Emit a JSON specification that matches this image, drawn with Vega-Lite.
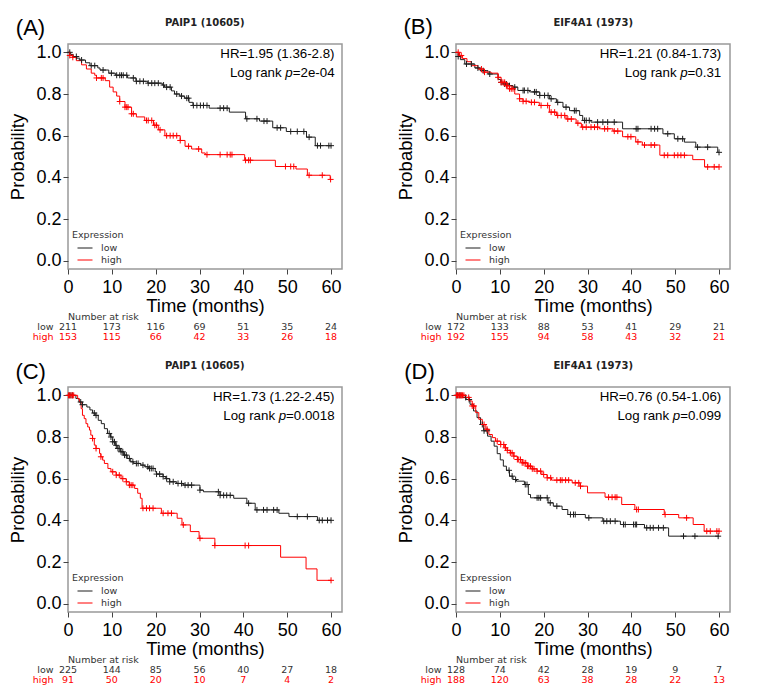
{
"$schema": "https://vega.github.io/schema/vega-lite/v6.json",
"background": "white",
"padding": {"left": 8, "top": 15, "right": 5, "bottom": 5},
"datasets": {
"info": [
{"panel":"A","letter":"(A)","gene":"PAIP1 (10605)","hr":"HR=1.95 (1.36-2.8)","pval":"=2e-04"},
{"panel":"B","letter":"(B)","gene":"EIF4A1 (1973)","hr":"HR=1.21 (0.84-1.73)","pval":"=0.31"},
{"panel":"C","letter":"(C)","gene":"PAIP1 (10605)","hr":"HR=1.73 (1.22-2.45)","pval":"=0.0018"},
{"panel":"D","letter":"(D)","gene":"EIF4A1 (1973)","hr":"HR=0.76 (0.54-1.06)","pval":"=0.099"}
],
"risk": [
{"panel":"A","grp":"low","t":0,"n":211},{"panel":"A","grp":"low","t":10,"n":173},{"panel":"A","grp":"low","t":20,"n":116},{"panel":"A","grp":"low","t":30,"n":69},{"panel":"A","grp":"low","t":40,"n":51},{"panel":"A","grp":"low","t":50,"n":35},{"panel":"A","grp":"low","t":60,"n":24},
{"panel":"A","grp":"high","t":0,"n":153},{"panel":"A","grp":"high","t":10,"n":115},{"panel":"A","grp":"high","t":20,"n":66},{"panel":"A","grp":"high","t":30,"n":42},{"panel":"A","grp":"high","t":40,"n":33},{"panel":"A","grp":"high","t":50,"n":26},{"panel":"A","grp":"high","t":60,"n":18},
{"panel":"B","grp":"low","t":0,"n":172},{"panel":"B","grp":"low","t":10,"n":133},{"panel":"B","grp":"low","t":20,"n":88},{"panel":"B","grp":"low","t":30,"n":53},{"panel":"B","grp":"low","t":40,"n":41},{"panel":"B","grp":"low","t":50,"n":29},{"panel":"B","grp":"low","t":60,"n":21},
{"panel":"B","grp":"high","t":0,"n":192},{"panel":"B","grp":"high","t":10,"n":155},{"panel":"B","grp":"high","t":20,"n":94},{"panel":"B","grp":"high","t":30,"n":58},{"panel":"B","grp":"high","t":40,"n":43},{"panel":"B","grp":"high","t":50,"n":32},{"panel":"B","grp":"high","t":60,"n":21},
{"panel":"C","grp":"low","t":0,"n":225},{"panel":"C","grp":"low","t":10,"n":144},{"panel":"C","grp":"low","t":20,"n":85},{"panel":"C","grp":"low","t":30,"n":56},{"panel":"C","grp":"low","t":40,"n":40},{"panel":"C","grp":"low","t":50,"n":27},{"panel":"C","grp":"low","t":60,"n":18},
{"panel":"C","grp":"high","t":0,"n":91},{"panel":"C","grp":"high","t":10,"n":50},{"panel":"C","grp":"high","t":20,"n":20},{"panel":"C","grp":"high","t":30,"n":10},{"panel":"C","grp":"high","t":40,"n":7},{"panel":"C","grp":"high","t":50,"n":4},{"panel":"C","grp":"high","t":60,"n":2},
{"panel":"D","grp":"low","t":0,"n":128},{"panel":"D","grp":"low","t":10,"n":74},{"panel":"D","grp":"low","t":20,"n":42},{"panel":"D","grp":"low","t":30,"n":28},{"panel":"D","grp":"low","t":40,"n":19},{"panel":"D","grp":"low","t":50,"n":9},{"panel":"D","grp":"low","t":60,"n":7},
{"panel":"D","grp":"high","t":0,"n":188},{"panel":"D","grp":"high","t":10,"n":120},{"panel":"D","grp":"high","t":20,"n":63},{"panel":"D","grp":"high","t":30,"n":38},{"panel":"D","grp":"high","t":40,"n":28},{"panel":"D","grp":"high","t":50,"n":22},{"panel":"D","grp":"high","t":60,"n":13}
],
"km": [
{"panel":"A","grp":"low","t":0,"s":1},{"panel":"A","grp":"low","t":0.6,"s":0.99},{"panel":"A","grp":"low","t":1.2,"s":0.98},{"panel":"A","grp":"low","t":2,"s":0.972},{"panel":"A","grp":"low","t":2.7,"s":0.963},{"panel":"A","grp":"low","t":4,"s":0.95},{"panel":"A","grp":"low","t":5,"s":0.936},{"panel":"A","grp":"low","t":6.8,"s":0.925},{"panel":"A","grp":"low","t":7.3,"s":0.915},{"panel":"A","grp":"low","t":9.3,"s":0.9},{"panel":"A","grp":"low","t":10.8,"s":0.89},{"panel":"A","grp":"low","t":13.6,"s":0.877},{"panel":"A","grp":"low","t":15.5,"s":0.861},{"panel":"A","grp":"low","t":18.2,"s":0.852},{"panel":"A","grp":"low","t":21.5,"s":0.843},{"panel":"A","grp":"low","t":22,"s":0.833},{"panel":"A","grp":"low","t":23.6,"s":0.815},{"panel":"A","grp":"low","t":24.3,"s":0.8},{"panel":"A","grp":"low","t":25.5,"s":0.79},{"panel":"A","grp":"low","t":26.6,"s":0.78},{"panel":"A","grp":"low","t":27.6,"s":0.76},{"panel":"A","grp":"low","t":28.5,"s":0.745},{"panel":"A","grp":"low","t":32.2,"s":0.732},{"panel":"A","grp":"low","t":36.8,"s":0.713},{"panel":"A","grp":"low","t":40.5,"s":0.681},{"panel":"A","grp":"low","t":43.7,"s":0.67},{"panel":"A","grp":"low","t":46.7,"s":0.638},{"panel":"A","grp":"low","t":49.8,"s":0.62},{"panel":"A","grp":"low","t":54.4,"s":0.593},{"panel":"A","grp":"low","t":56.4,"s":0.552},{"panel":"A","grp":"low","t":60,"s":0.552},
{"panel":"A","grp":"high","t":0,"s":1},{"panel":"A","grp":"high","t":0.4,"s":0.985},{"panel":"A","grp":"high","t":1,"s":0.976},{"panel":"A","grp":"high","t":1.9,"s":0.96},{"panel":"A","grp":"high","t":3.1,"s":0.94},{"panel":"A","grp":"high","t":4.2,"s":0.92},{"panel":"A","grp":"high","t":5.3,"s":0.9},{"panel":"A","grp":"high","t":6.1,"s":0.89},{"panel":"A","grp":"high","t":6.5,"s":0.877},{"panel":"A","grp":"high","t":8.5,"s":0.864},{"panel":"A","grp":"high","t":9.5,"s":0.833},{"panel":"A","grp":"high","t":10.3,"s":0.81},{"panel":"A","grp":"high","t":11.1,"s":0.79},{"panel":"A","grp":"high","t":11.8,"s":0.764},{"panel":"A","grp":"high","t":13,"s":0.737},{"panel":"A","grp":"high","t":14.5,"s":0.705},{"panel":"A","grp":"high","t":15.6,"s":0.69},{"panel":"A","grp":"high","t":17.5,"s":0.673},{"panel":"A","grp":"high","t":19.5,"s":0.65},{"panel":"A","grp":"high","t":20.6,"s":0.628},{"panel":"A","grp":"high","t":22.1,"s":0.6},{"panel":"A","grp":"high","t":25.6,"s":0.577},{"panel":"A","grp":"high","t":26.7,"s":0.549},{"panel":"A","grp":"high","t":28.2,"s":0.536},{"panel":"A","grp":"high","t":30.5,"s":0.517},{"panel":"A","grp":"high","t":31.3,"s":0.509},{"panel":"A","grp":"high","t":40.3,"s":0.482},{"panel":"A","grp":"high","t":47.3,"s":0.452},{"panel":"A","grp":"high","t":52,"s":0.44},{"panel":"A","grp":"high","t":54.6,"s":0.41},{"panel":"A","grp":"high","t":59.8,"s":0.39},{"panel":"A","grp":"high","t":60,"s":0.39},
{"panel":"B","grp":"low","t":0,"s":1},{"panel":"B","grp":"low","t":0.5,"s":0.98},{"panel":"B","grp":"low","t":1,"s":0.965},{"panel":"B","grp":"low","t":2,"s":0.944},{"panel":"B","grp":"low","t":4.3,"s":0.925},{"panel":"B","grp":"low","t":5.5,"s":0.912},{"panel":"B","grp":"low","t":7.3,"s":0.896},{"panel":"B","grp":"low","t":9.6,"s":0.87},{"panel":"B","grp":"low","t":10.2,"s":0.856},{"panel":"B","grp":"low","t":10.7,"s":0.848},{"panel":"B","grp":"low","t":12.2,"s":0.84},{"panel":"B","grp":"low","t":13,"s":0.833},{"panel":"B","grp":"low","t":14.1,"s":0.817},{"panel":"B","grp":"low","t":16.8,"s":0.81},{"panel":"B","grp":"low","t":19.1,"s":0.793},{"panel":"B","grp":"low","t":21.3,"s":0.777},{"panel":"B","grp":"low","t":22.9,"s":0.76},{"panel":"B","grp":"low","t":24.4,"s":0.737},{"panel":"B","grp":"low","t":25.9,"s":0.72},{"panel":"B","grp":"low","t":28.2,"s":0.697},{"panel":"B","grp":"low","t":28.9,"s":0.673},{"panel":"B","grp":"low","t":30.8,"s":0.665},{"panel":"B","grp":"low","t":38,"s":0.633},{"panel":"B","grp":"low","t":47.2,"s":0.609},{"panel":"B","grp":"low","t":49.8,"s":0.585},{"panel":"B","grp":"low","t":52.1,"s":0.569},{"panel":"B","grp":"low","t":54.7,"s":0.545},{"panel":"B","grp":"low","t":59.7,"s":0.52},{"panel":"B","grp":"low","t":60,"s":0.52},
{"panel":"B","grp":"high","t":0,"s":1},{"panel":"B","grp":"high","t":0.8,"s":0.985},{"panel":"B","grp":"high","t":1.5,"s":0.97},{"panel":"B","grp":"high","t":2.5,"s":0.955},{"panel":"B","grp":"high","t":3.5,"s":0.936},{"panel":"B","grp":"high","t":5,"s":0.92},{"panel":"B","grp":"high","t":6.5,"s":0.905},{"panel":"B","grp":"high","t":8,"s":0.9},{"panel":"B","grp":"high","t":9.6,"s":0.88},{"panel":"B","grp":"high","t":10.3,"s":0.856},{"panel":"B","grp":"high","t":11.5,"s":0.84},{"panel":"B","grp":"high","t":12.2,"s":0.825},{"panel":"B","grp":"high","t":13.4,"s":0.8},{"panel":"B","grp":"high","t":14.5,"s":0.777},{"panel":"B","grp":"high","t":15.3,"s":0.765},{"panel":"B","grp":"high","t":16.8,"s":0.76},{"panel":"B","grp":"high","t":19,"s":0.745},{"panel":"B","grp":"high","t":21.3,"s":0.713},{"panel":"B","grp":"high","t":22.9,"s":0.697},{"panel":"B","grp":"high","t":25.1,"s":0.68},{"panel":"B","grp":"high","t":27.4,"s":0.66},{"panel":"B","grp":"high","t":28.6,"s":0.641},{"panel":"B","grp":"high","t":32.7,"s":0.633},{"panel":"B","grp":"high","t":35.8,"s":0.622},{"panel":"B","grp":"high","t":38,"s":0.595},{"panel":"B","grp":"high","t":41,"s":0.57},{"panel":"B","grp":"high","t":42.5,"s":0.555},{"panel":"B","grp":"high","t":46.5,"s":0.506},{"panel":"B","grp":"high","t":54,"s":0.485},{"panel":"B","grp":"high","t":56.7,"s":0.45},{"panel":"B","grp":"high","t":60,"s":0.45},
{"panel":"C","grp":"low","t":0,"s":1},{"panel":"C","grp":"low","t":1.8,"s":0.985},{"panel":"C","grp":"low","t":2.5,"s":0.968},{"panel":"C","grp":"low","t":3.3,"s":0.955},{"panel":"C","grp":"low","t":4.3,"s":0.944},{"panel":"C","grp":"low","t":5,"s":0.93},{"panel":"C","grp":"low","t":5.6,"s":0.915},{"panel":"C","grp":"low","t":6.2,"s":0.904},{"panel":"C","grp":"low","t":6.9,"s":0.88},{"panel":"C","grp":"low","t":7.6,"s":0.864},{"panel":"C","grp":"low","t":8.3,"s":0.84},{"panel":"C","grp":"low","t":9,"s":0.817},{"panel":"C","grp":"low","t":9.7,"s":0.8},{"panel":"C","grp":"low","t":10.2,"s":0.777},{"panel":"C","grp":"low","t":10.8,"s":0.76},{"panel":"C","grp":"low","t":11.2,"s":0.745},{"panel":"C","grp":"low","t":12,"s":0.729},{"panel":"C","grp":"low","t":12.7,"s":0.713},{"panel":"C","grp":"low","t":13.5,"s":0.697},{"panel":"C","grp":"low","t":14.3,"s":0.681},{"panel":"C","grp":"low","t":15,"s":0.673},{"panel":"C","grp":"low","t":16.6,"s":0.665},{"panel":"C","grp":"low","t":17.5,"s":0.657},{"panel":"C","grp":"low","t":18.4,"s":0.649},{"panel":"C","grp":"low","t":19.9,"s":0.633},{"panel":"C","grp":"low","t":20.2,"s":0.622},{"panel":"C","grp":"low","t":21.7,"s":0.61},{"panel":"C","grp":"low","t":22.3,"s":0.6},{"panel":"C","grp":"low","t":23.2,"s":0.585},{"panel":"C","grp":"low","t":24.8,"s":0.577},{"panel":"C","grp":"low","t":26.3,"s":0.569},{"panel":"C","grp":"low","t":30.1,"s":0.545},{"panel":"C","grp":"low","t":30.9,"s":0.537},{"panel":"C","grp":"low","t":34.7,"s":0.52},{"panel":"C","grp":"low","t":37.8,"s":0.506},{"panel":"C","grp":"low","t":40.8,"s":0.482},{"panel":"C","grp":"low","t":42.7,"s":0.45},{"panel":"C","grp":"low","t":48.1,"s":0.434},{"panel":"C","grp":"low","t":50.4,"s":0.418},{"panel":"C","grp":"low","t":56.9,"s":0.4},{"panel":"C","grp":"low","t":60,"s":0.4},
{"panel":"C","grp":"high","t":0,"s":1},{"panel":"C","grp":"high","t":2.2,"s":0.984},{"panel":"C","grp":"high","t":2.6,"s":0.968},{"panel":"C","grp":"high","t":3,"s":0.936},{"panel":"C","grp":"high","t":3.3,"s":0.904},{"panel":"C","grp":"high","t":3.7,"s":0.888},{"panel":"C","grp":"high","t":4.1,"s":0.864},{"panel":"C","grp":"high","t":4.5,"s":0.848},{"panel":"C","grp":"high","t":4.9,"s":0.833},{"panel":"C","grp":"high","t":5.2,"s":0.809},{"panel":"C","grp":"high","t":5.6,"s":0.793},{"panel":"C","grp":"high","t":6,"s":0.761},{"panel":"C","grp":"high","t":6.4,"s":0.745},{"panel":"C","grp":"high","t":7.2,"s":0.721},{"panel":"C","grp":"high","t":7.5,"s":0.705},{"panel":"C","grp":"high","t":7.9,"s":0.689},{"panel":"C","grp":"high","t":8.3,"s":0.673},{"panel":"C","grp":"high","t":9.1,"s":0.649},{"panel":"C","grp":"high","t":9.8,"s":0.633},{"panel":"C","grp":"high","t":11,"s":0.617},{"panel":"C","grp":"high","t":12.1,"s":0.6},{"panel":"C","grp":"high","t":13.3,"s":0.585},{"panel":"C","grp":"high","t":14,"s":0.569},{"panel":"C","grp":"high","t":15.2,"s":0.553},{"panel":"C","grp":"high","t":15.9,"s":0.53},{"panel":"C","grp":"high","t":16.5,"s":0.506},{"panel":"C","grp":"high","t":16.9,"s":0.458},{"panel":"C","grp":"high","t":21.3,"s":0.434},{"panel":"C","grp":"high","t":24.9,"s":0.41},{"panel":"C","grp":"high","t":26,"s":0.378},{"panel":"C","grp":"high","t":27.9,"s":0.346},{"panel":"C","grp":"high","t":29.9,"s":0.314},{"panel":"C","grp":"high","t":33.5,"s":0.279},{"panel":"C","grp":"high","t":48.5,"s":0.223},{"panel":"C","grp":"high","t":54.3,"s":0.167},{"panel":"C","grp":"high","t":56.8,"s":0.112},{"panel":"C","grp":"high","t":60,"s":0.112},
{"panel":"D","grp":"low","t":0,"s":1},{"panel":"D","grp":"low","t":1.5,"s":0.99},{"panel":"D","grp":"low","t":2.3,"s":0.98},{"panel":"D","grp":"low","t":3.2,"s":0.957},{"panel":"D","grp":"low","t":4,"s":0.925},{"panel":"D","grp":"low","t":4.8,"s":0.893},{"panel":"D","grp":"low","t":5.6,"s":0.86},{"panel":"D","grp":"low","t":6.3,"s":0.83},{"panel":"D","grp":"low","t":7.2,"s":0.804},{"panel":"D","grp":"low","t":8,"s":0.78},{"panel":"D","grp":"low","t":8.7,"s":0.756},{"panel":"D","grp":"low","t":9.4,"s":0.72},{"panel":"D","grp":"low","t":10.1,"s":0.69},{"panel":"D","grp":"low","t":10.8,"s":0.66},{"panel":"D","grp":"low","t":11.5,"s":0.64},{"panel":"D","grp":"low","t":12.2,"s":0.612},{"panel":"D","grp":"low","t":13,"s":0.596},{"panel":"D","grp":"low","t":13.8,"s":0.588},{"panel":"D","grp":"low","t":15.6,"s":0.572},{"panel":"D","grp":"low","t":16.5,"s":0.524},{"panel":"D","grp":"low","t":17,"s":0.508},{"panel":"D","grp":"low","t":21,"s":0.484},{"panel":"D","grp":"low","t":22.2,"s":0.468},{"panel":"D","grp":"low","t":24.2,"s":0.452},{"panel":"D","grp":"low","t":25.5,"s":0.428},{"panel":"D","grp":"low","t":29.5,"s":0.412},{"panel":"D","grp":"low","t":33.5,"s":0.396},{"panel":"D","grp":"low","t":37.5,"s":0.38},{"panel":"D","grp":"low","t":43,"s":0.364},{"panel":"D","grp":"low","t":48.5,"s":0.324},{"panel":"D","grp":"low","t":60,"s":0.324},
{"panel":"D","grp":"high","t":0,"s":1},{"panel":"D","grp":"high","t":2.2,"s":0.99},{"panel":"D","grp":"high","t":3,"s":0.973},{"panel":"D","grp":"high","t":3.7,"s":0.949},{"panel":"D","grp":"high","t":4.5,"s":0.917},{"panel":"D","grp":"high","t":5.2,"s":0.885},{"panel":"D","grp":"high","t":6,"s":0.86},{"panel":"D","grp":"high","t":6.8,"s":0.837},{"panel":"D","grp":"high","t":7.5,"s":0.812},{"panel":"D","grp":"high","t":8.3,"s":0.797},{"panel":"D","grp":"high","t":9,"s":0.78},{"panel":"D","grp":"high","t":10.2,"s":0.764},{"panel":"D","grp":"high","t":11,"s":0.748},{"panel":"D","grp":"high","t":11.7,"s":0.736},{"panel":"D","grp":"high","t":12.4,"s":0.724},{"panel":"D","grp":"high","t":13.2,"s":0.708},{"panel":"D","grp":"high","t":14,"s":0.692},{"panel":"D","grp":"high","t":15.1,"s":0.676},{"panel":"D","grp":"high","t":16.3,"s":0.66},{"panel":"D","grp":"high","t":17.4,"s":0.647},{"panel":"D","grp":"high","t":18.5,"s":0.636},{"panel":"D","grp":"high","t":19.6,"s":0.62},{"panel":"D","grp":"high","t":20.8,"s":0.604},{"panel":"D","grp":"high","t":21.8,"s":0.593},{"panel":"D","grp":"high","t":26.5,"s":0.58},{"panel":"D","grp":"high","t":28.3,"s":0.564},{"panel":"D","grp":"high","t":30,"s":0.532},{"panel":"D","grp":"high","t":34,"s":0.511},{"panel":"D","grp":"high","t":37.8,"s":0.476},{"panel":"D","grp":"high","t":40.8,"s":0.452},{"panel":"D","grp":"high","t":47.5,"s":0.428},{"panel":"D","grp":"high","t":50.8,"s":0.412},{"panel":"D","grp":"high","t":54.1,"s":0.38},{"panel":"D","grp":"high","t":56.6,"s":0.348},{"panel":"D","grp":"high","t":60,"s":0.348}
],
"cens": [
{"panel":"A","grp":"low","t":0.4,"s":1},{"panel":"A","grp":"low","t":1.9,"s":0.98},{"panel":"A","grp":"low","t":3.1,"s":0.963},{"panel":"A","grp":"low","t":5.3,"s":0.936},{"panel":"A","grp":"low","t":6.1,"s":0.936},{"panel":"A","grp":"low","t":8,"s":0.915},{"panel":"A","grp":"low","t":9.9,"s":0.9},{"panel":"A","grp":"low","t":11.1,"s":0.89},{"panel":"A","grp":"low","t":11.8,"s":0.89},{"panel":"A","grp":"low","t":12.2,"s":0.89},{"panel":"A","grp":"low","t":12.6,"s":0.89},{"panel":"A","grp":"low","t":13.4,"s":0.89},{"panel":"A","grp":"low","t":14.9,"s":0.877},{"panel":"A","grp":"low","t":15.6,"s":0.861},{"panel":"A","grp":"low","t":16.4,"s":0.861},{"panel":"A","grp":"low","t":17.2,"s":0.861},{"panel":"A","grp":"low","t":18.3,"s":0.852},{"panel":"A","grp":"low","t":19.1,"s":0.852},{"panel":"A","grp":"low","t":19.8,"s":0.852},{"panel":"A","grp":"low","t":20.6,"s":0.852},{"panel":"A","grp":"low","t":21.8,"s":0.843},{"panel":"A","grp":"low","t":22.5,"s":0.833},{"panel":"A","grp":"low","t":23.3,"s":0.833},{"panel":"A","grp":"low","t":24.8,"s":0.8},{"panel":"A","grp":"low","t":25.9,"s":0.79},{"panel":"A","grp":"low","t":27.1,"s":0.78},{"panel":"A","grp":"low","t":27.5,"s":0.78},{"panel":"A","grp":"low","t":28.6,"s":0.745},{"panel":"A","grp":"low","t":29.4,"s":0.745},{"panel":"A","grp":"low","t":30.2,"s":0.745},{"panel":"A","grp":"low","t":30.9,"s":0.745},{"panel":"A","grp":"low","t":31.7,"s":0.745},{"panel":"A","grp":"low","t":34.7,"s":0.732},{"panel":"A","grp":"low","t":35.5,"s":0.732},{"panel":"A","grp":"low","t":36.3,"s":0.732},{"panel":"A","grp":"low","t":40.8,"s":0.681},{"panel":"A","grp":"low","t":43.1,"s":0.681},{"panel":"A","grp":"low","t":44.7,"s":0.67},{"panel":"A","grp":"low","t":45.4,"s":0.67},{"panel":"A","grp":"low","t":47.7,"s":0.638},{"panel":"A","grp":"low","t":48.5,"s":0.638},{"panel":"A","grp":"low","t":50.8,"s":0.62},{"panel":"A","grp":"low","t":52.3,"s":0.62},{"panel":"A","grp":"low","t":53.8,"s":0.62},{"panel":"A","grp":"low","t":55,"s":0.593},{"panel":"A","grp":"low","t":56.9,"s":0.552},{"panel":"A","grp":"low","t":57.6,"s":0.552},{"panel":"A","grp":"low","t":59.5,"s":0.552},{"panel":"A","grp":"low","t":60,"s":0.552},
{"panel":"A","grp":"high","t":0.4,"s":0.985},{"panel":"A","grp":"high","t":1.1,"s":0.976},{"panel":"A","grp":"high","t":6.5,"s":0.877},{"panel":"A","grp":"high","t":7.6,"s":0.877},{"panel":"A","grp":"high","t":8,"s":0.877},{"panel":"A","grp":"high","t":11.8,"s":0.764},{"panel":"A","grp":"high","t":13,"s":0.737},{"panel":"A","grp":"high","t":13.4,"s":0.737},{"panel":"A","grp":"high","t":13.7,"s":0.737},{"panel":"A","grp":"high","t":14.5,"s":0.705},{"panel":"A","grp":"high","t":14.9,"s":0.705},{"panel":"A","grp":"high","t":17.9,"s":0.673},{"panel":"A","grp":"high","t":18.3,"s":0.673},{"panel":"A","grp":"high","t":19.1,"s":0.673},{"panel":"A","grp":"high","t":19.8,"s":0.65},{"panel":"A","grp":"high","t":20.2,"s":0.65},{"panel":"A","grp":"high","t":21,"s":0.628},{"panel":"A","grp":"high","t":22.5,"s":0.6},{"panel":"A","grp":"high","t":23.3,"s":0.6},{"panel":"A","grp":"high","t":24,"s":0.6},{"panel":"A","grp":"high","t":24.8,"s":0.6},{"panel":"A","grp":"high","t":25.6,"s":0.577},{"panel":"A","grp":"high","t":27.5,"s":0.549},{"panel":"A","grp":"high","t":29.8,"s":0.536},{"panel":"A","grp":"high","t":31.7,"s":0.509},{"panel":"A","grp":"high","t":34.7,"s":0.509},{"panel":"A","grp":"high","t":36.3,"s":0.509},{"panel":"A","grp":"high","t":37,"s":0.509},{"panel":"A","grp":"high","t":37.4,"s":0.509},{"panel":"A","grp":"high","t":40.5,"s":0.482},{"panel":"A","grp":"high","t":41.2,"s":0.482},{"panel":"A","grp":"high","t":41.6,"s":0.482},{"panel":"A","grp":"high","t":49.6,"s":0.452},{"panel":"A","grp":"high","t":50.8,"s":0.452},{"panel":"A","grp":"high","t":51.5,"s":0.452},{"panel":"A","grp":"high","t":55,"s":0.41},{"panel":"A","grp":"high","t":58,"s":0.41},{"panel":"A","grp":"high","t":59.9,"s":0.39},
{"panel":"B","grp":"low","t":0.5,"s":0.98},{"panel":"B","grp":"low","t":2.4,"s":0.944},{"panel":"B","grp":"low","t":3.5,"s":0.944},{"panel":"B","grp":"low","t":5,"s":0.925},{"panel":"B","grp":"low","t":6.2,"s":0.912},{"panel":"B","grp":"low","t":7.7,"s":0.896},{"panel":"B","grp":"low","t":10.3,"s":0.856},{"panel":"B","grp":"low","t":11.1,"s":0.848},{"panel":"B","grp":"low","t":11.5,"s":0.848},{"panel":"B","grp":"low","t":12.2,"s":0.84},{"panel":"B","grp":"low","t":13.4,"s":0.833},{"panel":"B","grp":"low","t":15.3,"s":0.817},{"panel":"B","grp":"low","t":15.6,"s":0.817},{"panel":"B","grp":"low","t":16.4,"s":0.817},{"panel":"B","grp":"low","t":17.9,"s":0.81},{"panel":"B","grp":"low","t":18.3,"s":0.81},{"panel":"B","grp":"low","t":19.1,"s":0.793},{"panel":"B","grp":"low","t":20.2,"s":0.793},{"panel":"B","grp":"low","t":21,"s":0.793},{"panel":"B","grp":"low","t":21.7,"s":0.777},{"panel":"B","grp":"low","t":23.2,"s":0.76},{"panel":"B","grp":"low","t":25.1,"s":0.737},{"panel":"B","grp":"low","t":27,"s":0.72},{"panel":"B","grp":"low","t":27.4,"s":0.72},{"panel":"B","grp":"low","t":29.3,"s":0.673},{"panel":"B","grp":"low","t":29.7,"s":0.673},{"panel":"B","grp":"low","t":30.4,"s":0.673},{"panel":"B","grp":"low","t":32.3,"s":0.665},{"panel":"B","grp":"low","t":33.5,"s":0.665},{"panel":"B","grp":"low","t":34.6,"s":0.665},{"panel":"B","grp":"low","t":36.1,"s":0.665},{"panel":"B","grp":"low","t":41.1,"s":0.633},{"panel":"B","grp":"low","t":41.5,"s":0.633},{"panel":"B","grp":"low","t":44.5,"s":0.633},{"panel":"B","grp":"low","t":45.3,"s":0.633},{"panel":"B","grp":"low","t":46,"s":0.633},{"panel":"B","grp":"low","t":48.3,"s":0.609},{"panel":"B","grp":"low","t":50.6,"s":0.585},{"panel":"B","grp":"low","t":51.7,"s":0.585},{"panel":"B","grp":"low","t":55.1,"s":0.545},{"panel":"B","grp":"low","t":57.4,"s":0.545},{"panel":"B","grp":"low","t":60,"s":0.52},
{"panel":"B","grp":"high","t":0.5,"s":1},{"panel":"B","grp":"high","t":1.2,"s":0.985},{"panel":"B","grp":"high","t":5.8,"s":0.92},{"panel":"B","grp":"high","t":6.5,"s":0.905},{"panel":"B","grp":"high","t":9.6,"s":0.88},{"panel":"B","grp":"high","t":10.3,"s":0.856},{"panel":"B","grp":"high","t":10.7,"s":0.856},{"panel":"B","grp":"high","t":11.1,"s":0.856},{"panel":"B","grp":"high","t":11.5,"s":0.84},{"panel":"B","grp":"high","t":11.8,"s":0.84},{"panel":"B","grp":"high","t":12.2,"s":0.825},{"panel":"B","grp":"high","t":12.6,"s":0.825},{"panel":"B","grp":"high","t":13,"s":0.825},{"panel":"B","grp":"high","t":14.5,"s":0.777},{"panel":"B","grp":"high","t":15.3,"s":0.765},{"panel":"B","grp":"high","t":16,"s":0.765},{"panel":"B","grp":"high","t":17.2,"s":0.76},{"panel":"B","grp":"high","t":17.9,"s":0.76},{"panel":"B","grp":"high","t":19.4,"s":0.745},{"panel":"B","grp":"high","t":20.9,"s":0.745},{"panel":"B","grp":"high","t":21.7,"s":0.713},{"panel":"B","grp":"high","t":22.5,"s":0.713},{"panel":"B","grp":"high","t":23.2,"s":0.697},{"panel":"B","grp":"high","t":24,"s":0.697},{"panel":"B","grp":"high","t":24.8,"s":0.697},{"panel":"B","grp":"high","t":25.5,"s":0.68},{"panel":"B","grp":"high","t":26.3,"s":0.68},{"panel":"B","grp":"high","t":27.8,"s":0.66},{"panel":"B","grp":"high","t":28.9,"s":0.641},{"panel":"B","grp":"high","t":29.7,"s":0.641},{"panel":"B","grp":"high","t":30.8,"s":0.641},{"panel":"B","grp":"high","t":31.6,"s":0.641},{"panel":"B","grp":"high","t":32.3,"s":0.641},{"panel":"B","grp":"high","t":33.9,"s":0.633},{"panel":"B","grp":"high","t":34.6,"s":0.633},{"panel":"B","grp":"high","t":36.1,"s":0.622},{"panel":"B","grp":"high","t":36.9,"s":0.622},{"panel":"B","grp":"high","t":39.2,"s":0.595},{"panel":"B","grp":"high","t":39.9,"s":0.595},{"panel":"B","grp":"high","t":41.5,"s":0.57},{"panel":"B","grp":"high","t":43,"s":0.555},{"panel":"B","grp":"high","t":44.5,"s":0.555},{"panel":"B","grp":"high","t":45.3,"s":0.555},{"panel":"B","grp":"high","t":47.5,"s":0.506},{"panel":"B","grp":"high","t":48.3,"s":0.506},{"panel":"B","grp":"high","t":49.8,"s":0.506},{"panel":"B","grp":"high","t":50.6,"s":0.506},{"panel":"B","grp":"high","t":51.3,"s":0.506},{"panel":"B","grp":"high","t":52.1,"s":0.506},{"panel":"B","grp":"high","t":57.4,"s":0.45},{"panel":"B","grp":"high","t":58.9,"s":0.45},{"panel":"B","grp":"high","t":60,"s":0.45},
{"panel":"C","grp":"low","t":0.3,"s":1},{"panel":"C","grp":"low","t":0.65,"s":1},{"panel":"C","grp":"low","t":1,"s":1},{"panel":"C","grp":"low","t":2.9,"s":0.968},{"panel":"C","grp":"low","t":3.3,"s":0.955},{"panel":"C","grp":"low","t":6,"s":0.915},{"panel":"C","grp":"low","t":6.4,"s":0.904},{"panel":"C","grp":"low","t":9.4,"s":0.817},{"panel":"C","grp":"low","t":9.8,"s":0.8},{"panel":"C","grp":"low","t":10.2,"s":0.777},{"panel":"C","grp":"low","t":10.6,"s":0.777},{"panel":"C","grp":"low","t":11,"s":0.76},{"panel":"C","grp":"low","t":11.4,"s":0.745},{"panel":"C","grp":"low","t":11.7,"s":0.745},{"panel":"C","grp":"low","t":12.1,"s":0.729},{"panel":"C","grp":"low","t":12.5,"s":0.729},{"panel":"C","grp":"low","t":12.9,"s":0.713},{"panel":"C","grp":"low","t":13.3,"s":0.713},{"panel":"C","grp":"low","t":14,"s":0.697},{"panel":"C","grp":"low","t":14.8,"s":0.681},{"panel":"C","grp":"low","t":15.6,"s":0.673},{"panel":"C","grp":"low","t":16,"s":0.673},{"panel":"C","grp":"low","t":17.1,"s":0.665},{"panel":"C","grp":"low","t":18.2,"s":0.657},{"panel":"C","grp":"low","t":18.6,"s":0.649},{"panel":"C","grp":"low","t":19,"s":0.649},{"panel":"C","grp":"low","t":19.4,"s":0.649},{"panel":"C","grp":"low","t":20.2,"s":0.622},{"panel":"C","grp":"low","t":20.9,"s":0.622},{"panel":"C","grp":"low","t":21.7,"s":0.61},{"panel":"C","grp":"low","t":22.5,"s":0.6},{"panel":"C","grp":"low","t":23.2,"s":0.585},{"panel":"C","grp":"low","t":24,"s":0.585},{"panel":"C","grp":"low","t":25.1,"s":0.577},{"panel":"C","grp":"low","t":25.9,"s":0.577},{"panel":"C","grp":"low","t":26.7,"s":0.569},{"panel":"C","grp":"low","t":27.4,"s":0.569},{"panel":"C","grp":"low","t":28.2,"s":0.569},{"panel":"C","grp":"low","t":30.1,"s":0.545},{"panel":"C","grp":"low","t":34.3,"s":0.537},{"panel":"C","grp":"low","t":34.7,"s":0.52},{"panel":"C","grp":"low","t":35.5,"s":0.52},{"panel":"C","grp":"low","t":36.2,"s":0.52},{"panel":"C","grp":"low","t":37,"s":0.52},{"panel":"C","grp":"low","t":41.2,"s":0.482},{"panel":"C","grp":"low","t":43.1,"s":0.45},{"panel":"C","grp":"low","t":44.6,"s":0.45},{"panel":"C","grp":"low","t":45.4,"s":0.45},{"panel":"C","grp":"low","t":46.9,"s":0.45},{"panel":"C","grp":"low","t":47.7,"s":0.45},{"panel":"C","grp":"low","t":52.3,"s":0.418},{"panel":"C","grp":"low","t":54.6,"s":0.418},{"panel":"C","grp":"low","t":57.3,"s":0.4},{"panel":"C","grp":"low","t":58,"s":0.4},{"panel":"C","grp":"low","t":59.2,"s":0.4},{"panel":"C","grp":"low","t":60,"s":0.4},
{"panel":"C","grp":"high","t":0.1,"s":1},{"panel":"C","grp":"high","t":0.4,"s":1},{"panel":"C","grp":"high","t":0.7,"s":1},{"panel":"C","grp":"high","t":1,"s":1},{"panel":"C","grp":"high","t":1.3,"s":1},{"panel":"C","grp":"high","t":5.6,"s":0.793},{"panel":"C","grp":"high","t":6.4,"s":0.745},{"panel":"C","grp":"high","t":7.5,"s":0.705},{"panel":"C","grp":"high","t":10.2,"s":0.633},{"panel":"C","grp":"high","t":11,"s":0.617},{"panel":"C","grp":"high","t":11.7,"s":0.617},{"panel":"C","grp":"high","t":12.5,"s":0.6},{"panel":"C","grp":"high","t":13.3,"s":0.585},{"panel":"C","grp":"high","t":14,"s":0.569},{"panel":"C","grp":"high","t":14.4,"s":0.569},{"panel":"C","grp":"high","t":14.8,"s":0.569},{"panel":"C","grp":"high","t":17.1,"s":0.458},{"panel":"C","grp":"high","t":17.9,"s":0.458},{"panel":"C","grp":"high","t":18.6,"s":0.458},{"panel":"C","grp":"high","t":19.4,"s":0.458},{"panel":"C","grp":"high","t":21.7,"s":0.434},{"panel":"C","grp":"high","t":22.8,"s":0.434},{"panel":"C","grp":"high","t":23.6,"s":0.434},{"panel":"C","grp":"high","t":26.3,"s":0.378},{"panel":"C","grp":"high","t":30.1,"s":0.314},{"panel":"C","grp":"high","t":33.5,"s":0.279},{"panel":"C","grp":"high","t":40.4,"s":0.279},{"panel":"C","grp":"high","t":41.2,"s":0.279},{"panel":"C","grp":"high","t":60,"s":0.112},
{"panel":"D","grp":"low","t":0.3,"s":1},{"panel":"D","grp":"low","t":0.7,"s":1},{"panel":"D","grp":"low","t":1.1,"s":1},{"panel":"D","grp":"low","t":2.2,"s":0.99},{"panel":"D","grp":"low","t":3,"s":0.98},{"panel":"D","grp":"low","t":6,"s":0.86},{"panel":"D","grp":"low","t":6.4,"s":0.83},{"panel":"D","grp":"low","t":7.1,"s":0.83},{"panel":"D","grp":"low","t":12.1,"s":0.64},{"panel":"D","grp":"low","t":12.8,"s":0.612},{"panel":"D","grp":"low","t":13.6,"s":0.596},{"panel":"D","grp":"low","t":15.8,"s":0.572},{"panel":"D","grp":"low","t":16.2,"s":0.572},{"panel":"D","grp":"low","t":18.5,"s":0.508},{"panel":"D","grp":"low","t":18.9,"s":0.508},{"panel":"D","grp":"low","t":19.3,"s":0.508},{"panel":"D","grp":"low","t":20.8,"s":0.508},{"panel":"D","grp":"low","t":21.5,"s":0.484},{"panel":"D","grp":"low","t":23,"s":0.468},{"panel":"D","grp":"low","t":26.1,"s":0.428},{"panel":"D","grp":"low","t":26.8,"s":0.428},{"panel":"D","grp":"low","t":27.2,"s":0.428},{"panel":"D","grp":"low","t":30.3,"s":0.412},{"panel":"D","grp":"low","t":33.7,"s":0.396},{"panel":"D","grp":"low","t":34.4,"s":0.396},{"panel":"D","grp":"low","t":35.2,"s":0.396},{"panel":"D","grp":"low","t":36.3,"s":0.396},{"panel":"D","grp":"low","t":38.2,"s":0.38},{"panel":"D","grp":"low","t":38.6,"s":0.38},{"panel":"D","grp":"low","t":40.5,"s":0.38},{"panel":"D","grp":"low","t":40.9,"s":0.38},{"panel":"D","grp":"low","t":41.2,"s":0.38},{"panel":"D","grp":"low","t":43.5,"s":0.364},{"panel":"D","grp":"low","t":44.3,"s":0.364},{"panel":"D","grp":"low","t":45,"s":0.364},{"panel":"D","grp":"low","t":46.2,"s":0.364},{"panel":"D","grp":"low","t":47.3,"s":0.364},{"panel":"D","grp":"low","t":51.9,"s":0.324},{"panel":"D","grp":"low","t":54.5,"s":0.324},{"panel":"D","grp":"low","t":59.8,"s":0.324},
{"panel":"D","grp":"high","t":0.1,"s":1},{"panel":"D","grp":"high","t":0.3,"s":1},{"panel":"D","grp":"high","t":0.5,"s":1},{"panel":"D","grp":"high","t":0.8,"s":1},{"panel":"D","grp":"high","t":1.1,"s":1},{"panel":"D","grp":"high","t":1.3,"s":1},{"panel":"D","grp":"high","t":1.5,"s":1},{"panel":"D","grp":"high","t":1.8,"s":1},{"panel":"D","grp":"high","t":2.9,"s":0.99},{"panel":"D","grp":"high","t":3.7,"s":0.949},{"panel":"D","grp":"high","t":4.1,"s":0.949},{"panel":"D","grp":"high","t":6.4,"s":0.86},{"panel":"D","grp":"high","t":7.1,"s":0.837},{"panel":"D","grp":"high","t":9.4,"s":0.78},{"panel":"D","grp":"high","t":10.2,"s":0.764},{"panel":"D","grp":"high","t":10.9,"s":0.764},{"panel":"D","grp":"high","t":11.3,"s":0.748},{"panel":"D","grp":"high","t":11.7,"s":0.736},{"panel":"D","grp":"high","t":12.4,"s":0.724},{"panel":"D","grp":"high","t":12.8,"s":0.724},{"panel":"D","grp":"high","t":13.2,"s":0.708},{"panel":"D","grp":"high","t":14,"s":0.692},{"panel":"D","grp":"high","t":14.3,"s":0.692},{"panel":"D","grp":"high","t":14.7,"s":0.692},{"panel":"D","grp":"high","t":15.1,"s":0.676},{"panel":"D","grp":"high","t":15.5,"s":0.676},{"panel":"D","grp":"high","t":15.9,"s":0.676},{"panel":"D","grp":"high","t":16.3,"s":0.66},{"panel":"D","grp":"high","t":16.6,"s":0.66},{"panel":"D","grp":"high","t":17,"s":0.66},{"panel":"D","grp":"high","t":17.4,"s":0.647},{"panel":"D","grp":"high","t":17.8,"s":0.647},{"panel":"D","grp":"high","t":18.5,"s":0.636},{"panel":"D","grp":"high","t":19.3,"s":0.636},{"panel":"D","grp":"high","t":20,"s":0.62},{"panel":"D","grp":"high","t":20.8,"s":0.604},{"panel":"D","grp":"high","t":21.6,"s":0.604},{"panel":"D","grp":"high","t":23,"s":0.593},{"panel":"D","grp":"high","t":23.8,"s":0.593},{"panel":"D","grp":"high","t":24.2,"s":0.593},{"panel":"D","grp":"high","t":25,"s":0.593},{"panel":"D","grp":"high","t":25.7,"s":0.593},{"panel":"D","grp":"high","t":27.2,"s":0.58},{"panel":"D","grp":"high","t":28,"s":0.58},{"panel":"D","grp":"high","t":28.4,"s":0.564},{"panel":"D","grp":"high","t":34.8,"s":0.511},{"panel":"D","grp":"high","t":35.6,"s":0.511},{"panel":"D","grp":"high","t":36.3,"s":0.511},{"panel":"D","grp":"high","t":36.7,"s":0.511},{"panel":"D","grp":"high","t":41.2,"s":0.452},{"panel":"D","grp":"high","t":41.6,"s":0.452},{"panel":"D","grp":"high","t":47.7,"s":0.428},{"panel":"D","grp":"high","t":52.6,"s":0.412},{"panel":"D","grp":"high","t":57.2,"s":0.348},{"panel":"D","grp":"high","t":58,"s":0.348},{"panel":"D","grp":"high","t":59.5,"s":0.348},{"panel":"D","grp":"high","t":60,"s":0.348}
]
},
"columns": 2,
"spacing": {"row": 118, "column": 114},
"bounds": "flush",
"resolve": {"scale": {"color": "independent"}},
"concat": [
{"width": 274, "height": 225, "layer": [
 {"data":{"name":"km"},"transform":[{"filter":"datum.panel==='A'"}],"mark":{"type":"line","interpolate":"step-after","strokeWidth":1},
  "encoding":{"x":{"field":"t","type":"quantitative","scale":{"domain":[0,62.5],"nice":false,"zero":false},"axis":{"values":[0,10,20,30,40,50,60],"title":"Time (months)"}},
   "y":{"field":"s","type":"quantitative","scale":{"domain":[-0.04,1.04],"nice":false,"zero":false},"axis":{"values":[0,0.2,0.4,0.6,0.8,1],"format":".1f","title":"Probability"}},
   "color":{"field":"grp","type":"nominal","scale":{"domain":["low","high"],"range":["#1f1f1f","#ff0000"]},"legend":{"title":"Expression","encode":{"symbols":{"update":{"stroke":{"signal":"datum.value==='high'?'#ff0000':'#1f1f1f'"}}}}}}}},
 {"data":{"name":"cens"},"transform":[{"filter":"datum.panel==='A'"}],"mark":{"type":"point","shape":"M-1,0L1,0M0,-1L0,1","size":36,"strokeWidth":1,"filled":false,"opacity":1},
  "encoding":{"x":{"field":"t","type":"quantitative"},"y":{"field":"s","type":"quantitative"},"color":{"condition":{"test":"datum.grp==='high'","value":"#ff0000"},"value":"#1f1f1f"}}},
 {"data":{"name":"info"},"transform":[{"filter":"datum.panel==='A'"}],"mark":{"type":"text","style":"hr","align":"right"},"encoding":{"x":{"datum":60.8},"y":{"datum":0.992},"text":{"field":"hr"}}},
 {"data":{"name":"info"},"transform":[{"filter":"datum.panel==='A'"}],"mark":{"type":"text","style":"hr","align":"right"},"encoding":{"x":{"datum":60.8},"y":{"datum":0.9},"text":{"field":"pval"}}},
 {"data":{"name":"info"},"transform":[{"filter":"datum.panel==='A'"}],"mark":{"type":"text","style":"pit","align":"right","dx":-41.8},"encoding":{"x":{"datum":60.8},"y":{"datum":0.9},"text":{"value":"p"}}},
 {"data":{"name":"info"},"transform":[{"filter":"datum.panel==='A'"}],"mark":{"type":"text","style":"hr","align":"right","dx":-52.9},"encoding":{"x":{"datum":60.8},"y":{"datum":0.9},"text":{"value":"Log rank"}}},
 {"data":{"name":"info"},"transform":[{"filter":"datum.panel==='A'"}],"mark":{"type":"text","style":"gene"},"encoding":{"x":{"datum":31.2},"y":{"datum":1.142},"text":{"field":"gene"}}},
 {"data":{"name":"info"},"transform":[{"filter":"datum.panel==='A'"}],"mark":{"type":"text","style":"letter"},"encoding":{"x":{"datum":-11.9},"y":{"datum":1.117},"text":{"field":"letter"}}},
 {"data":{"name":"info"},"transform":[{"filter":"datum.panel==='A'"}],"mark":{"type":"text","style":"risk","align":"left","color":"#333333"},"encoding":{"x":{"datum":0},"y":{"datum":-0.268},"text":{"value":"Number at risk"}}},
 {"data":{"name":"info"},"transform":[{"filter":"datum.panel==='A'"}],"mark":{"type":"text","style":"risk","align":"right","color":"#333333"},"encoding":{"x":{"datum":-3.3},"y":{"datum":-0.316},"text":{"value":"low"}}},
 {"data":{"name":"info"},"transform":[{"filter":"datum.panel==='A'"}],"mark":{"type":"text","style":"risk","align":"right","color":"#ff0000"},"encoding":{"x":{"datum":-3.3},"y":{"datum":-0.364},"text":{"value":"high"}}},
 {"data":{"name":"risk"},"transform":[{"filter":"datum.panel==='A'&&datum.grp==='low'"}],"mark":{"type":"text","style":"risk","color":"#333333"},"encoding":{"x":{"field":"t","type":"quantitative"},"y":{"datum":-0.316},"text":{"field":"n"}}},
 {"data":{"name":"risk"},"transform":[{"filter":"datum.panel==='A'&&datum.grp==='high'"}],"mark":{"type":"text","style":"risk","color":"#ff0000"},"encoding":{"x":{"field":"t","type":"quantitative"},"y":{"datum":-0.364},"text":{"field":"n"}}}
]},
{"width": 274, "height": 225, "layer": [
 {"data":{"name":"km"},"transform":[{"filter":"datum.panel==='B'"}],"mark":{"type":"line","interpolate":"step-after","strokeWidth":1},
  "encoding":{"x":{"field":"t","type":"quantitative","scale":{"domain":[0,62.5],"nice":false,"zero":false},"axis":{"values":[0,10,20,30,40,50,60],"title":"Time (months)"}},
   "y":{"field":"s","type":"quantitative","scale":{"domain":[-0.04,1.04],"nice":false,"zero":false},"axis":{"values":[0,0.2,0.4,0.6,0.8,1],"format":".1f","title":"Probability"}},
   "color":{"field":"grp","type":"nominal","scale":{"domain":["low","high"],"range":["#1f1f1f","#ff0000"]},"legend":{"title":"Expression","encode":{"symbols":{"update":{"stroke":{"signal":"datum.value==='high'?'#ff0000':'#1f1f1f'"}}}}}}}},
 {"data":{"name":"cens"},"transform":[{"filter":"datum.panel==='B'"}],"mark":{"type":"point","shape":"M-1,0L1,0M0,-1L0,1","size":36,"strokeWidth":1,"filled":false,"opacity":1},
  "encoding":{"x":{"field":"t","type":"quantitative"},"y":{"field":"s","type":"quantitative"},"color":{"condition":{"test":"datum.grp==='high'","value":"#ff0000"},"value":"#1f1f1f"}}},
 {"data":{"name":"info"},"transform":[{"filter":"datum.panel==='B'"}],"mark":{"type":"text","style":"hr","align":"right"},"encoding":{"x":{"datum":60.5},"y":{"datum":0.992},"text":{"field":"hr"}}},
 {"data":{"name":"info"},"transform":[{"filter":"datum.panel==='B'"}],"mark":{"type":"text","style":"hr","align":"right"},"encoding":{"x":{"datum":60.5},"y":{"datum":0.9},"text":{"field":"pval"}}},
 {"data":{"name":"info"},"transform":[{"filter":"datum.panel==='B'"}],"mark":{"type":"text","style":"pit","align":"right","dx":-33.6},"encoding":{"x":{"datum":60.5},"y":{"datum":0.9},"text":{"value":"p"}}},
 {"data":{"name":"info"},"transform":[{"filter":"datum.panel==='B'"}],"mark":{"type":"text","style":"hr","align":"right","dx":-44.7},"encoding":{"x":{"datum":60.5},"y":{"datum":0.9},"text":{"value":"Log rank"}}},
 {"data":{"name":"info"},"transform":[{"filter":"datum.panel==='B'"}],"mark":{"type":"text","style":"gene"},"encoding":{"x":{"datum":31.3},"y":{"datum":1.142},"text":{"field":"gene"}}},
 {"data":{"name":"info"},"transform":[{"filter":"datum.panel==='B'"}],"mark":{"type":"text","style":"letter"},"encoding":{"x":{"datum":-12},"y":{"datum":1.122},"text":{"field":"letter"}}},
 {"data":{"name":"info"},"transform":[{"filter":"datum.panel==='B'"}],"mark":{"type":"text","style":"risk","align":"left","color":"#333333"},"encoding":{"x":{"datum":0},"y":{"datum":-0.268},"text":{"value":"Number at risk"}}},
 {"data":{"name":"info"},"transform":[{"filter":"datum.panel==='B'"}],"mark":{"type":"text","style":"risk","align":"right","color":"#333333"},"encoding":{"x":{"datum":-3.3},"y":{"datum":-0.316},"text":{"value":"low"}}},
 {"data":{"name":"info"},"transform":[{"filter":"datum.panel==='B'"}],"mark":{"type":"text","style":"risk","align":"right","color":"#ff0000"},"encoding":{"x":{"datum":-3.3},"y":{"datum":-0.364},"text":{"value":"high"}}},
 {"data":{"name":"risk"},"transform":[{"filter":"datum.panel==='B'&&datum.grp==='low'"}],"mark":{"type":"text","style":"risk","color":"#333333"},"encoding":{"x":{"field":"t","type":"quantitative"},"y":{"datum":-0.316},"text":{"field":"n"}}},
 {"data":{"name":"risk"},"transform":[{"filter":"datum.panel==='B'&&datum.grp==='high'"}],"mark":{"type":"text","style":"risk","color":"#ff0000"},"encoding":{"x":{"field":"t","type":"quantitative"},"y":{"datum":-0.364},"text":{"field":"n"}}}
]},
{"width": 274, "height": 225, "layer": [
 {"data":{"name":"km"},"transform":[{"filter":"datum.panel==='C'"}],"mark":{"type":"line","interpolate":"step-after","strokeWidth":1},
  "encoding":{"x":{"field":"t","type":"quantitative","scale":{"domain":[0,62.5],"nice":false,"zero":false},"axis":{"values":[0,10,20,30,40,50,60],"title":"Time (months)"}},
   "y":{"field":"s","type":"quantitative","scale":{"domain":[-0.04,1.04],"nice":false,"zero":false},"axis":{"values":[0,0.2,0.4,0.6,0.8,1],"format":".1f","title":"Probability"}},
   "color":{"field":"grp","type":"nominal","scale":{"domain":["low","high"],"range":["#1f1f1f","#ff0000"]},"legend":{"title":"Expression","encode":{"symbols":{"update":{"stroke":{"signal":"datum.value==='high'?'#ff0000':'#1f1f1f'"}}}}}}}},
 {"data":{"name":"cens"},"transform":[{"filter":"datum.panel==='C'"}],"mark":{"type":"point","shape":"M-1,0L1,0M0,-1L0,1","size":36,"strokeWidth":1,"filled":false,"opacity":1},
  "encoding":{"x":{"field":"t","type":"quantitative"},"y":{"field":"s","type":"quantitative"},"color":{"condition":{"test":"datum.grp==='high'","value":"#ff0000"},"value":"#1f1f1f"}}},
 {"data":{"name":"info"},"transform":[{"filter":"datum.panel==='C'"}],"mark":{"type":"text","style":"hr","align":"right"},"encoding":{"x":{"datum":60.8},"y":{"datum":0.992},"text":{"field":"hr"}}},
 {"data":{"name":"info"},"transform":[{"filter":"datum.panel==='C'"}],"mark":{"type":"text","style":"hr","align":"right"},"encoding":{"x":{"datum":60.8},"y":{"datum":0.9},"text":{"field":"pval"}}},
 {"data":{"name":"info"},"transform":[{"filter":"datum.panel==='C'"}],"mark":{"type":"text","style":"pit","align":"right","dx":-48.4},"encoding":{"x":{"datum":60.8},"y":{"datum":0.9},"text":{"value":"p"}}},
 {"data":{"name":"info"},"transform":[{"filter":"datum.panel==='C'"}],"mark":{"type":"text","style":"hr","align":"right","dx":-59.5},"encoding":{"x":{"datum":60.8},"y":{"datum":0.9},"text":{"value":"Log rank"}}},
 {"data":{"name":"info"},"transform":[{"filter":"datum.panel==='C'"}],"mark":{"type":"text","style":"gene"},"encoding":{"x":{"datum":31.2},"y":{"datum":1.141},"text":{"field":"gene"}}},
 {"data":{"name":"info"},"transform":[{"filter":"datum.panel==='C'"}],"mark":{"type":"text","style":"letter"},"encoding":{"x":{"datum":-12},"y":{"datum":1.112},"text":{"field":"letter"}}},
 {"data":{"name":"info"},"transform":[{"filter":"datum.panel==='C'"}],"mark":{"type":"text","style":"risk","align":"left","color":"#333333"},"encoding":{"x":{"datum":0},"y":{"datum":-0.268},"text":{"value":"Number at risk"}}},
 {"data":{"name":"info"},"transform":[{"filter":"datum.panel==='C'"}],"mark":{"type":"text","style":"risk","align":"right","color":"#333333"},"encoding":{"x":{"datum":-3.3},"y":{"datum":-0.316},"text":{"value":"low"}}},
 {"data":{"name":"info"},"transform":[{"filter":"datum.panel==='C'"}],"mark":{"type":"text","style":"risk","align":"right","color":"#ff0000"},"encoding":{"x":{"datum":-3.3},"y":{"datum":-0.364},"text":{"value":"high"}}},
 {"data":{"name":"risk"},"transform":[{"filter":"datum.panel==='C'&&datum.grp==='low'"}],"mark":{"type":"text","style":"risk","color":"#333333"},"encoding":{"x":{"field":"t","type":"quantitative"},"y":{"datum":-0.316},"text":{"field":"n"}}},
 {"data":{"name":"risk"},"transform":[{"filter":"datum.panel==='C'&&datum.grp==='high'"}],"mark":{"type":"text","style":"risk","color":"#ff0000"},"encoding":{"x":{"field":"t","type":"quantitative"},"y":{"datum":-0.364},"text":{"field":"n"}}}
]},
{"width": 274, "height": 225, "layer": [
 {"data":{"name":"km"},"transform":[{"filter":"datum.panel==='D'"}],"mark":{"type":"line","interpolate":"step-after","strokeWidth":1},
  "encoding":{"x":{"field":"t","type":"quantitative","scale":{"domain":[0,62.5],"nice":false,"zero":false},"axis":{"values":[0,10,20,30,40,50,60],"title":"Time (months)"}},
   "y":{"field":"s","type":"quantitative","scale":{"domain":[-0.04,1.04],"nice":false,"zero":false},"axis":{"values":[0,0.2,0.4,0.6,0.8,1],"format":".1f","title":"Probability"}},
   "color":{"field":"grp","type":"nominal","scale":{"domain":["low","high"],"range":["#1f1f1f","#ff0000"]},"legend":{"title":"Expression","encode":{"symbols":{"update":{"stroke":{"signal":"datum.value==='high'?'#ff0000':'#1f1f1f'"}}}}}}}},
 {"data":{"name":"cens"},"transform":[{"filter":"datum.panel==='D'"}],"mark":{"type":"point","shape":"M-1,0L1,0M0,-1L0,1","size":36,"strokeWidth":1,"filled":false,"opacity":1},
  "encoding":{"x":{"field":"t","type":"quantitative"},"y":{"field":"s","type":"quantitative"},"color":{"condition":{"test":"datum.grp==='high'","value":"#ff0000"},"value":"#1f1f1f"}}},
 {"data":{"name":"info"},"transform":[{"filter":"datum.panel==='D'"}],"mark":{"type":"text","style":"hr","align":"right"},"encoding":{"x":{"datum":60.5},"y":{"datum":0.992},"text":{"field":"hr"}}},
 {"data":{"name":"info"},"transform":[{"filter":"datum.panel==='D'"}],"mark":{"type":"text","style":"hr","align":"right"},"encoding":{"x":{"datum":60.5},"y":{"datum":0.9},"text":{"field":"pval"}}},
 {"data":{"name":"info"},"transform":[{"filter":"datum.panel==='D'"}],"mark":{"type":"text","style":"pit","align":"right","dx":-41},"encoding":{"x":{"datum":60.5},"y":{"datum":0.9},"text":{"value":"p"}}},
 {"data":{"name":"info"},"transform":[{"filter":"datum.panel==='D'"}],"mark":{"type":"text","style":"hr","align":"right","dx":-52.1},"encoding":{"x":{"datum":60.5},"y":{"datum":0.9},"text":{"value":"Log rank"}}},
 {"data":{"name":"info"},"transform":[{"filter":"datum.panel==='D'"}],"mark":{"type":"text","style":"gene"},"encoding":{"x":{"datum":31.3},"y":{"datum":1.141},"text":{"field":"gene"}}},
 {"data":{"name":"info"},"transform":[{"filter":"datum.panel==='D'"}],"mark":{"type":"text","style":"letter"},"encoding":{"x":{"datum":-11.8},"y":{"datum":1.112},"text":{"field":"letter"}}},
 {"data":{"name":"info"},"transform":[{"filter":"datum.panel==='D'"}],"mark":{"type":"text","style":"risk","align":"left","color":"#333333"},"encoding":{"x":{"datum":0},"y":{"datum":-0.268},"text":{"value":"Number at risk"}}},
 {"data":{"name":"info"},"transform":[{"filter":"datum.panel==='D'"}],"mark":{"type":"text","style":"risk","align":"right","color":"#333333"},"encoding":{"x":{"datum":-3.3},"y":{"datum":-0.316},"text":{"value":"low"}}},
 {"data":{"name":"info"},"transform":[{"filter":"datum.panel==='D'"}],"mark":{"type":"text","style":"risk","align":"right","color":"#ff0000"},"encoding":{"x":{"datum":-3.3},"y":{"datum":-0.364},"text":{"value":"high"}}},
 {"data":{"name":"risk"},"transform":[{"filter":"datum.panel==='D'&&datum.grp==='low'"}],"mark":{"type":"text","style":"risk","color":"#333333"},"encoding":{"x":{"field":"t","type":"quantitative"},"y":{"datum":-0.316},"text":{"field":"n"}}},
 {"data":{"name":"risk"},"transform":[{"filter":"datum.panel==='D'&&datum.grp==='high'"}],"mark":{"type":"text","style":"risk","color":"#ff0000"},"encoding":{"x":{"field":"t","type":"quantitative"},"y":{"datum":-0.364},"text":{"field":"n"}}}
]}
],
"config": {
 "font": "Liberation Sans",
 "view": {"stroke": "#999999", "strokeWidth": 1.5},
 "axis": {"domain": false, "grid": false, "ticks": true, "tickSize": 5, "tickColor": "#444444", "tickWidth": 1, "labelFont": "Liberation Sans", "labelFontSize": 18, "labelColor": "#000000", "titleFont": "Liberation Sans", "titleFontSize": 18.5, "titleFontWeight": "normal", "titleColor": "#000000", "labelFlush": false, "labelOverlap": false},
 "axisX": {"labelPadding": 4, "titlePadding": 0},
 "axisY": {"labelPadding": 2, "titlePadding": 8},
 "legend": {"orient": "bottom-left", "offset": 4, "padding": 0, "titleFont": "DejaVu Sans", "titleFontSize": 9.5, "titleFontWeight": "normal", "titleColor": "#333333", "titlePadding": 4, "labelFont": "DejaVu Sans", "labelFontSize": 9.5, "labelColor": "#333333", "symbolType": "stroke", "symbolSize": 225, "symbolStrokeWidth": 1, "symbolOffset": 5, "labelOffset": 8, "rowPadding": 2, "clipHeight": 9},
 "style": {
  "hr": {"font": "Liberation Sans", "fontSize": 13.3, "color": "#000000", "baseline": "middle"},
  "pit": {"font": "Liberation Sans", "fontSize": 13.3, "fontStyle": "italic", "color": "#000000", "baseline": "middle"},
  "gene": {"font": "DejaVu Sans", "fontSize": 10, "fontWeight": "bold", "color": "#222222", "baseline": "middle", "align": "center"},
  "letter": {"font": "Liberation Sans", "fontSize": 22, "color": "#000000", "baseline": "middle", "align": "left"},
  "risk": {"font": "DejaVu Sans", "fontSize": 9.5, "baseline": "middle", "align": "center"}
 }
}
}
